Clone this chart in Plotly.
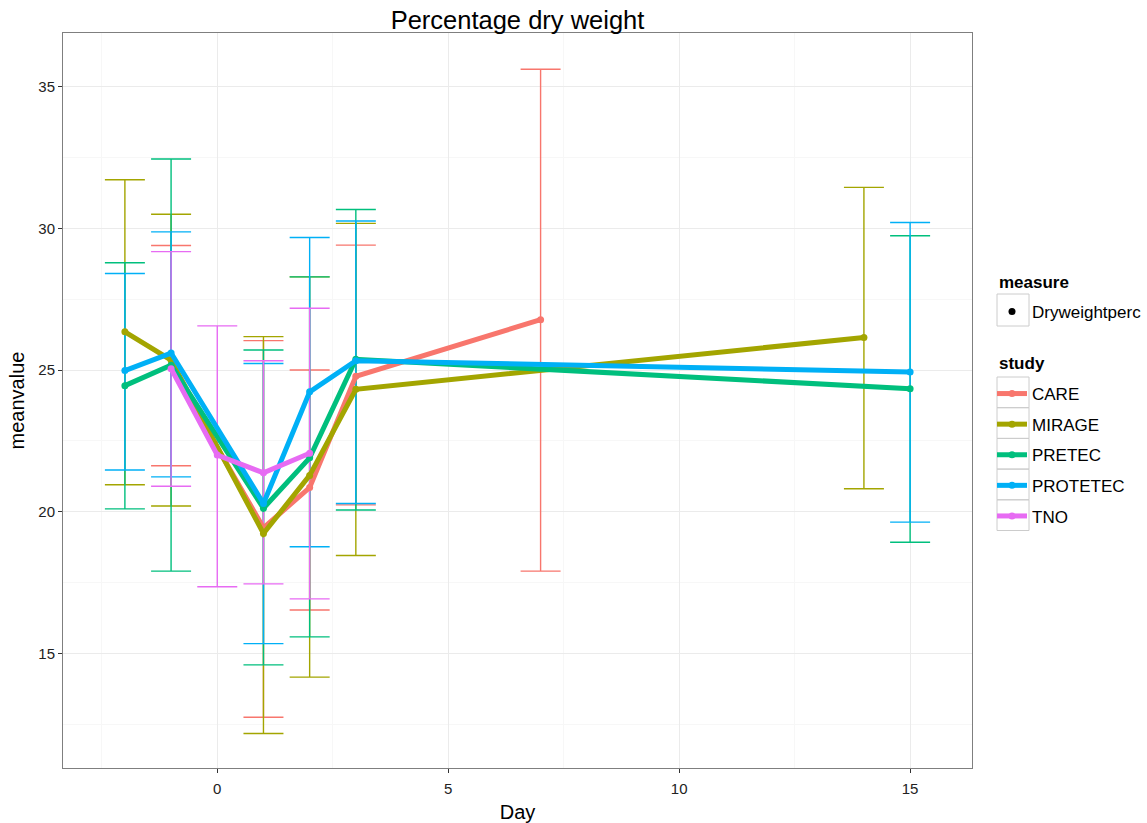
import plotly.graph_objects as go

# ---- data ----
studies = ["CARE", "MIRAGE", "PRETEC", "PROTETEC", "TNO"]
colors = ["#F8766D", "#A3A500", "#00BF7D", "#00B0F6", "#E76BF3"]

care_day = [-1, 1, 2, 3, 7]
care_mean = [25.10, 19.43, 20.85, 24.78, 26.78]
care_hi = [29.40, 26.04, 25.00, 29.41, 35.62]
care_lo = [21.62, 12.74, 16.53, 20.24, 17.90]

mirage_day = [-2, -1, 1, 2, 3, 14]
mirage_mean = [26.35, 25.35, 19.23, 21.28, 24.32, 26.15]
mirage_hi = [31.72, 30.50, 26.18, 28.29, 30.18, 31.45]
mirage_lo = [20.95, 20.20, 12.17, 14.16, 18.45, 20.81]

pretec_day = [-2, -1, 1, 2, 3, 15]
pretec_mean = [24.45, 25.17, 20.12, 21.90, 25.38, 24.34]
pretec_hi = [28.79, 32.45, 25.71, 28.29, 30.67, 29.74]
pretec_lo = [20.10, 17.90, 14.59, 15.58, 20.06, 18.92]

protetec_day = [-2, -1, 1, 2, 3, 15]
protetec_mean = [24.98, 25.60, 20.29, 24.23, 25.33, 24.93]
protetec_hi = [28.41, 29.88, 25.23, 29.68, 30.26, 30.21]
protetec_lo = [21.47, 21.23, 15.34, 18.76, 20.29, 19.63]

tno_day = [-1, 0, 1, 2]
tno_mean = [25.05, 22.00, 21.37, 22.06]
tno_hi = [29.18, 26.56, 25.33, 27.18]
tno_lo = [20.90, 17.35, 17.45, 16.92]

series = [
    (care_day, care_mean, care_hi, care_lo),
    (mirage_day, mirage_mean, mirage_hi, mirage_lo),
    (pretec_day, pretec_mean, pretec_hi, pretec_lo),
    (protetec_day, protetec_mean, protetec_hi, protetec_lo),
    (tno_day, tno_mean, tno_hi, tno_lo),
]

FONT = "Liberation Sans, Arial, sans-serif"
W, H = 1147, 823
L, R, T, B = 63, 972, 33, 768  # panel edges in px


def px_x(px):
    return (px - L) / (R - L)


def px_y(py):
    return (B - py) / (B - T)


fig = go.Figure()

# error bars (drawn beneath the lines)
for name, col, (d, m, hi, lo) in zip(studies, colors, series):
    fig.add_trace(go.Scatter(
        x=d, y=m, mode="markers",
        marker=dict(size=1, opacity=0, color=col),
        error_y=dict(type="data", symmetric=False,
                     array=[h - v for h, v in zip(hi, m)],
                     arrayminus=[v - l for l, v in zip(lo, m)],
                     color=col, thickness=1.4, width=20),
        showlegend=False, hoverinfo="skip"))

# measure legend entry
fig.add_trace(go.Scatter(
    x=[None], y=[None], mode="markers", name="Dryweightperc",
    marker=dict(color="black", size=7), legend="legend", showlegend=True))

# lines + points
for name, col, (d, m, hi, lo) in zip(studies, colors, series):
    fig.add_trace(go.Scatter(
        x=d, y=m, mode="lines+markers", name=name,
        line=dict(color=col, width=5),
        marker=dict(color=col, size=7),
        legend="legend2", legendgroup=name))

# legend key boxes (ggplot style)
shapes = [dict(type="rect", xref="paper", yref="paper",
               x0=px_x(997), x1=px_x(1029), y0=px_y(326), y1=px_y(294),
               line=dict(color="#cccccc", width=1), fillcolor="rgba(0,0,0,0)")]
edges = [377, 407.7, 438.4, 469.1, 499.8, 530.5]
for a, b in zip(edges[:-1], edges[1:]):
    shapes.append(dict(type="rect", xref="paper", yref="paper",
                       x0=px_x(997), x1=px_x(1029), y0=px_y(b), y1=px_y(a),
                       line=dict(color="#cccccc", width=1), fillcolor="rgba(0,0,0,0)"))

annotations = [
    dict(text="<b>measure</b>", xref="paper", yref="paper", x=px_x(997), y=px_y(282),
         xanchor="left", yanchor="middle", showarrow=False, font=dict(size=17, color="black")),
    dict(text="<b>study</b>", xref="paper", yref="paper", x=px_x(997), y=px_y(363),
         xanchor="left", yanchor="middle", showarrow=False, font=dict(size=17, color="black")),
]

fig.update_layout(
    width=W, height=H,
    margin=dict(l=L, r=W - R, t=T, b=H - B, autoexpand=False),
    paper_bgcolor="white", plot_bgcolor="white",
    font=dict(family=FONT, color="black"),
    title=dict(text="Percentage dry weight", x=(L + R) / 2 / W, xanchor="center",
               y=1 - 20 / H, yanchor="middle", yref="container",
               font=dict(size=25.5, color="black")),
    legend=dict(x=px_x(992), xanchor="left", y=px_y(294), yanchor="top",
                font=dict(size=17), bgcolor="rgba(0,0,0,0)"),
    legend2=dict(x=px_x(992), xanchor="left", y=px_y(376), yanchor="top",
                 font=dict(size=17), tracegroupgap=5.5, traceorder="grouped",
                 bgcolor="rgba(0,0,0,0)"),
    showlegend=True,
    shapes=shapes,
    annotations=annotations,
)

fig.update_xaxes(
    range=[-3.34, 16.34], tickvals=[0, 5, 10, 15], ticks="outside", ticklen=4,
    tickcolor="#333333", tickfont=dict(size=15, color="#222222"), ticklabelstandoff=3,
    showgrid=True, gridcolor="#ebebeb", gridwidth=1,
    minor=dict(tickvals=[-2.5, 2.5, 7.5, 12.5], showgrid=True, gridcolor="#f7f7f7"),
    showline=True, mirror=True, linecolor="#7f7f7f", linewidth=1, zeroline=False,
    title=dict(text="Day", font=dict(size=20), standoff=12))
fig.update_yaxes(
    range=[10.95, 36.9], tickvals=[15, 20, 25, 30, 35], ticks="outside", ticklen=4,
    tickcolor="#333333", tickfont=dict(size=15, color="#222222"),
    showgrid=True, gridcolor="#ebebeb", gridwidth=1,
    minor=dict(tickvals=[12.5, 17.5, 22.5, 27.5, 32.5], showgrid=True, gridcolor="#f7f7f7"),
    showline=True, mirror=True, linecolor="#7f7f7f", linewidth=1, zeroline=False,
    title=dict(text="meanvalue", font=dict(size=20), standoff=8))

fig.write_html("out.html", post_script="document.body.style.margin='0px';",
               config={"displayModeBar": False})
